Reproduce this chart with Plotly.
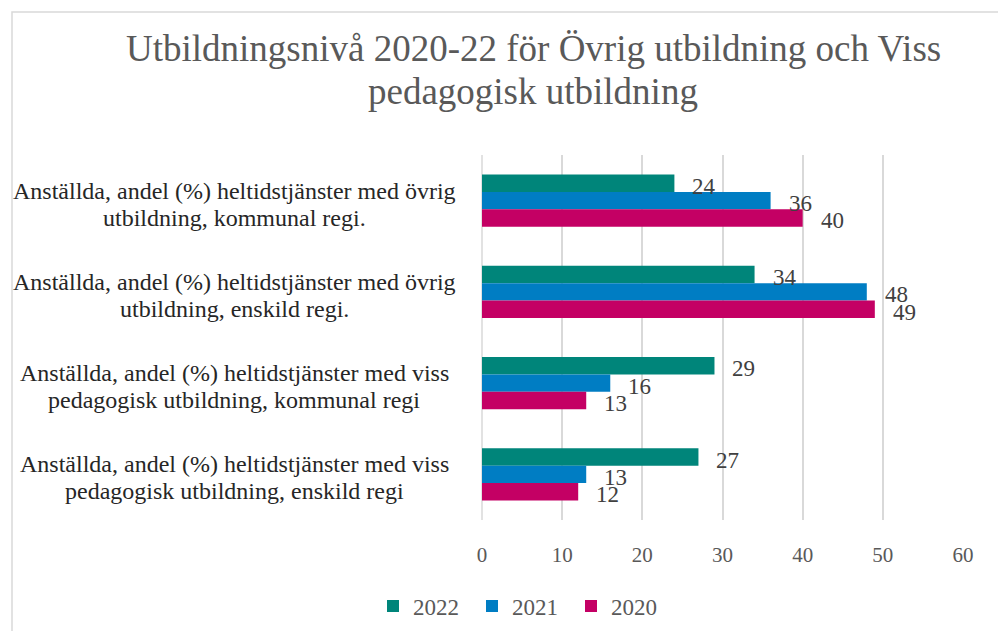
import plotly.graph_objects as go

categories = [
    ["Anställda, andel (%) heltidstjänster med övrig", "utbildning, kommunal regi."],
    ["Anställda, andel (%) heltidstjänster med övrig", "utbildning, enskild regi."],
    ["Anställda, andel (%) heltidstjänster med viss", "pedagogisk utbildning, kommunal regi"],
    ["Anställda, andel (%) heltidstjänster med viss", "pedagogisk utbildning, enskild regi"],
]
title_lines = ["Utbildningsnivå 2020-22 för Övrig utbildning och Viss", "pedagogisk utbildning"]
series_names = ["2022", "2021", "2020"]
values_2022 = [24, 34, 29, 27]
values_2021 = [36, 48, 16, 13]
values_2020 = [40, 49, 13, 12]
colors = ["#00857a", "#007dc3", "#c40064"]
x_ticks = [0, 10, 20, 30, 40, 50, 60]

# page is offset by the default 8px body margin
OX, OY = 8, 8
PAGE_W, PAGE_H = 1006, 631
W, H = PAGE_W - OX, PAGE_H - OY
PLOT_L, PLOT_R, PLOT_T, PLOT_B = 482, 963, 155, 520  # page px
ML, MR, MT, MB = PLOT_L - OX, PAGE_W - PLOT_R, PLOT_T - OY, PAGE_H - PLOT_B
FONT = "Liberation Serif, Times New Roman, serif"
BARGAP = 0.43

pw = W - ML - MR
ph = H - MT - MB
def px_x(px):
    return (px - PLOT_L) / pw
def px_y(py):
    return (PLOT_B - py) / ph

all_vals = [values_2022, values_2021, values_2020]
ypos = list(range(len(categories)))

fig = go.Figure()
for name, vals, col in zip(series_names, all_vals, colors):
    fig.add_trace(go.Bar(
        y=ypos, x=vals, name=name, orientation="h",
        marker=dict(color=col, line=dict(width=0)),
    ))

n = len(series_names)
w = (1 - BARGAP) / n
annotations = []
for i, vals in enumerate(all_vals):
    off = -(1 - BARGAP) / 2 + w * (i + 0.5)
    for j, v in enumerate(vals):
        annotations.append(dict(
            x=v, y=j + off, xref="x", yref="y", text=str(v), showarrow=False,
            xanchor="left", yanchor="middle", xshift=16, yshift=-3,
            font=dict(family=FONT, size=23, color="#404040"),
        ))

# category labels, each line centered
for j, lines in enumerate(categories):
    for k, (line, ys) in enumerate(zip(lines, [10, -17])):
        annotations.append(dict(
            x=px_x(234), y=j, xref="paper", yref="y", text=line, showarrow=False,
            xanchor="center", yanchor="middle", yshift=ys,
            font=dict(family=FONT, size=24, color="#262626"),
        ))

# title lines
for line, py in zip(title_lines, [48, 92]):
    annotations.append(dict(
        x=px_x(533), y=px_y(py), xref="paper", yref="paper", text=line, showarrow=False,
        xanchor="center", yanchor="middle",
        font=dict(family=FONT, size=37, color="#595959"),
    ))

fig.update_layout(
    width=W, height=H,
    margin=dict(l=ML, r=MR, t=MT, b=MB, pad=0, autoexpand=False),
    paper_bgcolor="white", plot_bgcolor="white",
    barmode="group", bargap=BARGAP, bargroupgap=0,
    xaxis=dict(
        range=[0, 60], tickvals=x_ticks, showgrid=True, gridcolor="#d9d9d9", gridwidth=1.5,
        zeroline=False, showline=False, ticks="", ticklabelstandoff=20,
        tickfont=dict(family=FONT, size=21, color="#595959"),
    ),
    yaxis=dict(
        range=[len(categories) - 0.5, -0.5], showticklabels=False, showgrid=False,
        zeroline=False, showline=False,
    ),
    showlegend=True,
    legend=dict(
        orientation="h", xref="paper", yref="paper",
        x=px_x(373), xanchor="left", y=px_y(606), yanchor="middle",
        font=dict(family=FONT, size=23, color="#595959"),
        entrywidth=54, entrywidthmode="pixels", traceorder="normal",
        itemwidth=30,
    ),
    annotations=annotations,
    shapes=[
        dict(type="line", xref="paper", yref="paper",
             x0=0, x1=0, y0=0, y1=1, line=dict(color="#d9d9d9", width=1.5), layer="below"),
        dict(type="rect", xref="paper", yref="paper",
             x0=px_x(12), x1=px_x(1004), y0=px_y(645), y1=px_y(12),
             line=dict(color="#d9d9d9", width=1.5), fillcolor="rgba(0,0,0,0)", layer="below"),
    ],
)

fig.write_html("out.html")
